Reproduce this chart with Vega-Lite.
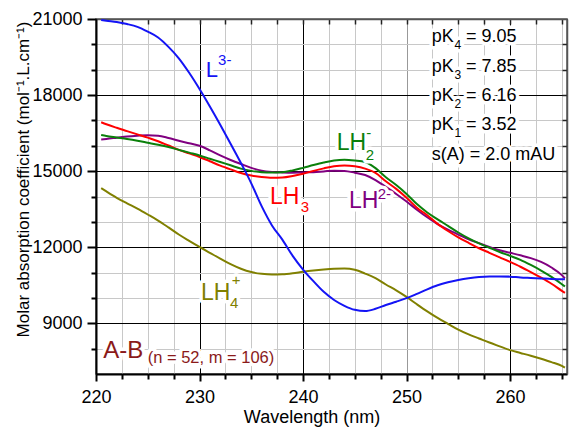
{
  "$schema": "https://vega.github.io/schema/vega-lite/v6.json",
  "width": 471,
  "height": 355,
  "autosize": {"type": "none"},
  "padding": {"left": 96, "top": 19, "right": 5, "bottom": 53},
  "config": {"view": {"stroke": "#555555", "strokeWidth": 1.5}, "font": "Liberation Sans"},
  "datasets": {
    "spectra": [
      {"species":"LH4+","wl":220.5,"eps":14330},{"species":"LH4+","wl":221,"eps":14200},{"species":"LH4+","wl":222,"eps":13950},{"species":"LH4+","wl":223,"eps":13730},{"species":"LH4+","wl":224,"eps":13520},{"species":"LH4+","wl":225,"eps":13290},{"species":"LH4+","wl":226,"eps":13050},{"species":"LH4+","wl":227,"eps":12780},{"species":"LH4+","wl":228,"eps":12500},{"species":"LH4+","wl":229,"eps":12250},{"species":"LH4+","wl":230,"eps":12010},{"species":"LH4+","wl":231,"eps":11780},{"species":"LH4+","wl":232,"eps":11550},{"species":"LH4+","wl":233,"eps":11330},{"species":"LH4+","wl":234,"eps":11150},{"species":"LH4+","wl":235,"eps":11020},{"species":"LH4+","wl":236,"eps":10950},{"species":"LH4+","wl":237,"eps":10920},{"species":"LH4+","wl":238,"eps":10930},{"species":"LH4+","wl":239,"eps":10970},{"species":"LH4+","wl":240,"eps":11030},{"species":"LH4+","wl":241,"eps":11080},{"species":"LH4+","wl":242,"eps":11120},{"species":"LH4+","wl":243,"eps":11150},{"species":"LH4+","wl":244,"eps":11160},{"species":"LH4+","wl":245,"eps":11110},{"species":"LH4+","wl":246,"eps":10960},{"species":"LH4+","wl":247,"eps":10780},{"species":"LH4+","wl":248,"eps":10530},{"species":"LH4+","wl":249,"eps":10300},{"species":"LH4+","wl":250,"eps":10040},{"species":"LH4+","wl":251,"eps":9750},{"species":"LH4+","wl":252,"eps":9470},{"species":"LH4+","wl":253,"eps":9210},{"species":"LH4+","wl":254,"eps":8980},{"species":"LH4+","wl":255,"eps":8750},{"species":"LH4+","wl":256,"eps":8560},{"species":"LH4+","wl":257,"eps":8400},{"species":"LH4+","wl":258,"eps":8240},{"species":"LH4+","wl":259,"eps":8090},{"species":"LH4+","wl":260,"eps":7940},{"species":"LH4+","wl":261,"eps":7830},{"species":"LH4+","wl":262,"eps":7720},{"species":"LH4+","wl":263,"eps":7600},{"species":"LH4+","wl":264,"eps":7470},{"species":"LH4+","wl":265,"eps":7320},{"species":"LH4+","wl":265.3,"eps":7250},
      {"species":"LH22-","wl":220.5,"eps":16250},{"species":"LH22-","wl":221,"eps":16270},{"species":"LH22-","wl":222,"eps":16320},{"species":"LH22-","wl":223,"eps":16370},{"species":"LH22-","wl":224,"eps":16400},{"species":"LH22-","wl":225,"eps":16420},{"species":"LH22-","wl":226,"eps":16400},{"species":"LH22-","wl":227,"eps":16310},{"species":"LH22-","wl":228,"eps":16200},{"species":"LH22-","wl":229,"eps":16100},{"species":"LH22-","wl":230,"eps":16000},{"species":"LH22-","wl":231,"eps":15820},{"species":"LH22-","wl":232,"eps":15620},{"species":"LH22-","wl":233,"eps":15440},{"species":"LH22-","wl":234,"eps":15280},{"species":"LH22-","wl":235,"eps":15130},{"species":"LH22-","wl":236,"eps":15020},{"species":"LH22-","wl":237,"eps":14970},{"species":"LH22-","wl":238,"eps":14950},{"species":"LH22-","wl":239,"eps":14940},{"species":"LH22-","wl":240,"eps":14950},{"species":"LH22-","wl":241,"eps":14960},{"species":"LH22-","wl":242,"eps":14990},{"species":"LH22-","wl":243,"eps":15020},{"species":"LH22-","wl":244,"eps":15010},{"species":"LH22-","wl":245,"eps":14940},{"species":"LH22-","wl":246,"eps":14850},{"species":"LH22-","wl":247,"eps":14650},{"species":"LH22-","wl":248,"eps":14380},{"species":"LH22-","wl":249,"eps":14100},{"species":"LH22-","wl":250,"eps":13800},{"species":"LH22-","wl":251,"eps":13480},{"species":"LH22-","wl":252,"eps":13180},{"species":"LH22-","wl":253,"eps":12910},{"species":"LH22-","wl":254,"eps":12690},{"species":"LH22-","wl":255,"eps":12500},{"species":"LH22-","wl":256,"eps":12310},{"species":"LH22-","wl":257,"eps":12160},{"species":"LH22-","wl":258,"eps":12010},{"species":"LH22-","wl":259,"eps":11880},{"species":"LH22-","wl":260,"eps":11780},{"species":"LH22-","wl":261,"eps":11680},{"species":"LH22-","wl":262,"eps":11570},{"species":"LH22-","wl":263,"eps":11420},{"species":"LH22-","wl":264,"eps":11200},{"species":"LH22-","wl":265,"eps":10900},{"species":"LH22-","wl":265.3,"eps":10770},
      {"species":"LH3","wl":220.5,"eps":16930},{"species":"LH3","wl":221,"eps":16850},{"species":"LH3","wl":222,"eps":16710},{"species":"LH3","wl":223,"eps":16580},{"species":"LH3","wl":224,"eps":16450},{"species":"LH3","wl":225,"eps":16320},{"species":"LH3","wl":226,"eps":16180},{"species":"LH3","wl":227,"eps":16010},{"species":"LH3","wl":228,"eps":15840},{"species":"LH3","wl":229,"eps":15700},{"species":"LH3","wl":230,"eps":15560},{"species":"LH3","wl":231,"eps":15390},{"species":"LH3","wl":232,"eps":15220},{"species":"LH3","wl":233,"eps":15070},{"species":"LH3","wl":234,"eps":14930},{"species":"LH3","wl":235,"eps":14830},{"species":"LH3","wl":236,"eps":14770},{"species":"LH3","wl":237,"eps":14740},{"species":"LH3","wl":238,"eps":14750},{"species":"LH3","wl":239,"eps":14810},{"species":"LH3","wl":240,"eps":14900},{"species":"LH3","wl":241,"eps":15010},{"species":"LH3","wl":242,"eps":15110},{"species":"LH3","wl":243,"eps":15190},{"species":"LH3","wl":244,"eps":15220},{"species":"LH3","wl":245,"eps":15190},{"species":"LH3","wl":246,"eps":15100},{"species":"LH3","wl":247,"eps":14930},{"species":"LH3","wl":248,"eps":14600},{"species":"LH3","wl":249,"eps":14300},{"species":"LH3","wl":250,"eps":13950},{"species":"LH3","wl":251,"eps":13560},{"species":"LH3","wl":252,"eps":13260},{"species":"LH3","wl":253,"eps":12920},{"species":"LH3","wl":254,"eps":12640},{"species":"LH3","wl":255,"eps":12390},{"species":"LH3","wl":256,"eps":12170},{"species":"LH3","wl":257,"eps":11960},{"species":"LH3","wl":258,"eps":11780},{"species":"LH3","wl":259,"eps":11600},{"species":"LH3","wl":260,"eps":11420},{"species":"LH3","wl":261,"eps":11230},{"species":"LH3","wl":262,"eps":11020},{"species":"LH3","wl":263,"eps":10800},{"species":"LH3","wl":264,"eps":10560},{"species":"LH3","wl":265,"eps":10280},{"species":"LH3","wl":265.3,"eps":10200},
      {"species":"LH2-","wl":220.5,"eps":16430},{"species":"LH2-","wl":221,"eps":16390},{"species":"LH2-","wl":222,"eps":16330},{"species":"LH2-","wl":223,"eps":16270},{"species":"LH2-","wl":224,"eps":16200},{"species":"LH2-","wl":225,"eps":16120},{"species":"LH2-","wl":226,"eps":16040},{"species":"LH2-","wl":227,"eps":15950},{"species":"LH2-","wl":228,"eps":15840},{"species":"LH2-","wl":229,"eps":15730},{"species":"LH2-","wl":230,"eps":15620},{"species":"LH2-","wl":231,"eps":15490},{"species":"LH2-","wl":232,"eps":15360},{"species":"LH2-","wl":233,"eps":15230},{"species":"LH2-","wl":234,"eps":15100},{"species":"LH2-","wl":235,"eps":15010},{"species":"LH2-","wl":236,"eps":14960},{"species":"LH2-","wl":237,"eps":14950},{"species":"LH2-","wl":238,"eps":14960},{"species":"LH2-","wl":239,"eps":15030},{"species":"LH2-","wl":240,"eps":15130},{"species":"LH2-","wl":241,"eps":15240},{"species":"LH2-","wl":242,"eps":15340},{"species":"LH2-","wl":243,"eps":15420},{"species":"LH2-","wl":244,"eps":15450},{"species":"LH2-","wl":245,"eps":15420},{"species":"LH2-","wl":246,"eps":15360},{"species":"LH2-","wl":247,"eps":15120},{"species":"LH2-","wl":248,"eps":14760},{"species":"LH2-","wl":249,"eps":14450},{"species":"LH2-","wl":250,"eps":14100},{"species":"LH2-","wl":251,"eps":13700},{"species":"LH2-","wl":252,"eps":13370},{"species":"LH2-","wl":253,"eps":13100},{"species":"LH2-","wl":254,"eps":12840},{"species":"LH2-","wl":255,"eps":12580},{"species":"LH2-","wl":256,"eps":12350},{"species":"LH2-","wl":257,"eps":12150},{"species":"LH2-","wl":258,"eps":11980},{"species":"LH2-","wl":259,"eps":11810},{"species":"LH2-","wl":260,"eps":11660},{"species":"LH2-","wl":261,"eps":11500},{"species":"LH2-","wl":262,"eps":11300},{"species":"LH2-","wl":263,"eps":11080},{"species":"LH2-","wl":264,"eps":10830},{"species":"LH2-","wl":265,"eps":10540},{"species":"LH2-","wl":265.3,"eps":10450},
      {"species":"L3-","wl":220.5,"eps":20960},{"species":"L3-","wl":221,"eps":20930},{"species":"L3-","wl":222,"eps":20880},{"species":"L3-","wl":223,"eps":20800},{"species":"L3-","wl":224,"eps":20690},{"species":"L3-","wl":225,"eps":20500},{"species":"L3-","wl":226,"eps":20270},{"species":"L3-","wl":227,"eps":19900},{"species":"L3-","wl":228,"eps":19450},{"species":"L3-","wl":229,"eps":18880},{"species":"L3-","wl":230,"eps":18240},{"species":"L3-","wl":231,"eps":17550},{"species":"L3-","wl":232,"eps":16830},{"species":"L3-","wl":233,"eps":16080},{"species":"L3-","wl":234,"eps":15320},{"species":"L3-","wl":235,"eps":14520},{"species":"L3-","wl":236,"eps":13620},{"species":"L3-","wl":237,"eps":12860},{"species":"L3-","wl":238,"eps":12300},{"species":"L3-","wl":239,"eps":11660},{"species":"L3-","wl":240,"eps":11120},{"species":"L3-","wl":241,"eps":10660},{"species":"L3-","wl":242,"eps":10240},{"species":"L3-","wl":243,"eps":9920},{"species":"L3-","wl":244,"eps":9690},{"species":"L3-","wl":245,"eps":9530},{"species":"L3-","wl":246,"eps":9480},{"species":"L3-","wl":247,"eps":9570},{"species":"L3-","wl":248,"eps":9720},{"species":"L3-","wl":249,"eps":9850},{"species":"L3-","wl":250,"eps":9990},{"species":"L3-","wl":251,"eps":10160},{"species":"L3-","wl":252,"eps":10340},{"species":"L3-","wl":253,"eps":10500},{"species":"L3-","wl":254,"eps":10620},{"species":"L3-","wl":255,"eps":10710},{"species":"L3-","wl":256,"eps":10780},{"species":"L3-","wl":257,"eps":10830},{"species":"L3-","wl":258,"eps":10850},{"species":"L3-","wl":259,"eps":10850},{"species":"L3-","wl":260,"eps":10840},{"species":"L3-","wl":261,"eps":10810},{"species":"L3-","wl":262,"eps":10790},{"species":"L3-","wl":263,"eps":10770},{"species":"L3-","wl":264,"eps":10750},{"species":"L3-","wl":265,"eps":10740},{"species":"L3-","wl":265.3,"eps":10740}
    ],
    "labels": [
      {"text":"L","wl":230.6,"eps":18705,"species":"L3-","kind":"mainL"},
      {"text":"3-","wl":231.79,"eps":19189,"species":"L3-","kind":"script"},
      {"text":"LH","wl":243.25,"eps":15843,"species":"LH2-","kind":"main"},
      {"text":"2","wl":246.06,"eps":15450,"species":"LH2-","kind":"script"},
      {"text":"-","wl":246.1,"eps":16315,"species":"LH2-","kind":"script"},
      {"text":"LH","wl":236.81,"eps":13717,"species":"LH3","kind":"main"},
      {"text":"3","wl":239.78,"eps":13389,"species":"LH3","kind":"script"},
      {"text":"LH","wl":244.44,"eps":13559,"species":"LH22-","kind":"main"},
      {"text":"2-","wl":247.22,"eps":13913,"species":"LH22-","kind":"script"},
      {"text":"LH","wl":230.14,"eps":9910,"species":"LH4+","kind":"main"},
      {"text":"4","wl":232.95,"eps":9610,"species":"LH4+","kind":"script"},
      {"text":"+","wl":233.11,"eps":10504,"species":"LH4+","kind":"script"},
      {"text":"A-B","wl":220.71,"eps":7614,"species":"AB","kind":"ab"},
      {"text":"(n = 52, m = 106)","wl":224.99,"eps":7445,"species":"AB","kind":"note"},
      {"text":"pK","wl":252.43,"eps":20083,"species":"pK","kind":"pk"},
      {"text":"4","wl":254.63,"eps":19807,"species":"pK","kind":"pksub"},
      {"text":"= 9.05","wl":255.75,"eps":20083,"species":"pK","kind":"pk"},
      {"text":"pK","wl":252.43,"eps":18925,"species":"pK","kind":"pk"},
      {"text":"3","wl":254.63,"eps":18650,"species":"pK","kind":"pksub"},
      {"text":"= 7.85","wl":255.75,"eps":18925,"species":"pK","kind":"pk"},
      {"text":"pK","wl":252.43,"eps":17783,"species":"pK","kind":"pk"},
      {"text":"2","wl":254.63,"eps":17508,"species":"pK","kind":"pksub"},
      {"text":"= 6.16","wl":255.75,"eps":17783,"species":"pK","kind":"pk"},
      {"text":"pK","wl":252.43,"eps":16630,"species":"pK","kind":"pk"},
      {"text":"1","wl":254.63,"eps":16354,"species":"pK","kind":"pksub"},
      {"text":"= 3.52","wl":255.75,"eps":16630,"species":"pK","kind":"pk"},
      {"text":"s(A) = 2.0 mAU","wl":252.43,"eps":15421,"species":"pK","kind":"pk"}
    ]
  },
  "layer": [
    {
      "data": {"name": "spectra"},
      "mark": {"type": "line", "strokeWidth": 2, "interpolate": "monotone"},
      "encoding": {
        "x": {"field": "wl", "type": "quantitative",
          "scale": {"domain": [220, 265.5], "nice": false, "zero": false},
          "axis": {"orient": "bottom", "values": [220, 222.5, 225, 227.5, 230, 232.5, 235, 237.5, 240, 242.5, 245, 247.5, 250, 252.5, 255, 257.5, 260, 262.5, 265],
            "labelExpr": "datum.value % 10 == 0 ? datum.label : ''",
            "title": "Wavelength (nm)", "titleFontSize": 18, "titleFontWeight": "normal", "titleColor": "black",
            "titleX": 215.5, "titleY": 48, "titleAlign": "center", "titleBaseline": "alphabetic",
            "labelFontSize": 18, "labelColor": "black", "labelPadding": 7, "labelFlush": false, "labelOverlap": false,
            "tickSize": {"condition": {"test": "datum.value % 10 == 0", "value": 7}, "value": 5},
            "tickWidth": 2, "tickColor": "black",
            "domainColor": "black", "domainWidth": 2,
            "grid": true,
            "gridColor": {"condition": [{"test": "datum.value == 250", "value": "#999999"}, {"test": "datum.value % 10 == 0", "value": "#000000"}], "value": "#c8c8c8"},
            "gridWidth": 1, "gridOpacity": 1}},
        "y": {"field": "eps", "type": "quantitative",
          "scale": {"domain": [7000, 21000], "nice": false, "zero": false},
          "axis": {"orient": "left", "values": [8000, 9000, 10000, 11000, 12000, 13000, 14000, 15000, 16000, 17000, 18000, 19000, 20000, 21000],
            "labelExpr": "datum.value % 3000 == 0 ? datum.label : ''", "format": "d",
            "title": "Molar absorption coefficient (mol⁻¹.L.cm⁻¹)", "titleFontSize": 17, "titleFontWeight": "normal", "titleColor": "black",
            "titleAngle": -90, "titleX": -68, "titleY": 160, "titleAlign": "center", "titleBaseline": "alphabetic",
            "labelFontSize": 18, "labelColor": "black", "labelPadding": 5, "labelFlush": false, "labelOverlap": false,
            "tickSize": {"condition": {"test": "datum.value % 3000 == 0", "value": 9}, "value": 5},
            "tickWidth": 2, "tickColor": "black",
            "domainColor": "black", "domainWidth": 2,
            "grid": true,
            "gridColor": {"condition": {"test": "datum.value % 3000 == 0", "value": "#000000"}, "value": "#c8c8c8"},
            "gridWidth": 1, "gridOpacity": 1}},
        "color": {"field": "species", "type": "nominal",
          "scale": {"domain": ["LH4+", "LH22-", "LH3", "LH2-", "L3-", "AB", "pK"],
                    "range": ["#808000", "#800080", "#ff0000", "#0b800b", "#1414f5", "#8b1a1a", "#000000"]},
          "legend": null}
      }
    },
    {
      "data": {"name": "labels"},
      "mark": {"type": "text", "align": "left", "baseline": "alphabetic", "fill": "white", "stroke": "white", "strokeWidth": 7, "strokeJoin": "round",
        "fontSize": {"expr": "datum.kind == 'main' ? 23 : datum.kind == 'mainL' ? 22 : datum.kind == 'script' ? 15 : datum.kind == 'note' ? 16.5 : datum.kind == 'pk' ? 18 : datum.kind == 'pksub' ? 12 : 24"}},
      "encoding": {
        "x": {"field": "wl", "type": "quantitative", "scale": {"domain": [220, 265.5], "nice": false, "zero": false}, "axis": null},
        "y": {"field": "eps", "type": "quantitative", "scale": {"domain": [7000, 21000], "nice": false, "zero": false}, "axis": null},
        "text": {"field": "text"}
      }
    },
    {
      "data": {"name": "labels"},
      "mark": {"type": "text", "align": "left", "baseline": "alphabetic",
        "fontSize": {"expr": "datum.kind == 'main' ? 23 : datum.kind == 'mainL' ? 22 : datum.kind == 'script' ? 15 : datum.kind == 'note' ? 16.5 : datum.kind == 'pk' ? 18 : datum.kind == 'pksub' ? 12 : 24"}},
      "encoding": {
        "x": {"field": "wl", "type": "quantitative",
          "scale": {"domain": [220, 265.5], "nice": false, "zero": false},
          "axis": {"orient": "top", "values": [222.5, 225, 227.5, 230, 232.5, 235, 237.5, 240, 242.5, 245, 247.5, 250, 252.5, 255, 257.5, 260, 262.5, 265],
            "labels": false, "title": null, "tickSize": -5, "tickWidth": 1.5, "tickColor": "#222222",
            "domainColor": "#555555", "domainWidth": 1.5, "grid": false}},
        "y": {"field": "eps", "type": "quantitative",
          "scale": {"domain": [7000, 21000], "nice": false, "zero": false},
          "axis": {"orient": "right", "values": [8000, 9000, 10000, 11000, 12000, 13000, 14000, 15000, 16000, 17000, 18000, 19000, 20000],
            "labels": false, "title": null, "tickSize": -5, "tickWidth": 1.5, "tickColor": "#222222",
            "domainColor": "#555555", "domainWidth": 1.5, "grid": false}},
        "text": {"field": "text"},
        "color": {"field": "species", "type": "nominal",
          "scale": {"domain": ["LH4+", "LH22-", "LH3", "LH2-", "L3-", "AB", "pK"],
                    "range": ["#808000", "#800080", "#ff0000", "#0b800b", "#1414f5", "#8b1a1a", "#000000"]},
          "legend": null}
      }
    }
  ],
  "resolve": {"scale": {"x": "independent", "y": "independent"}, "axis": {"x": "independent", "y": "independent"}}
}
